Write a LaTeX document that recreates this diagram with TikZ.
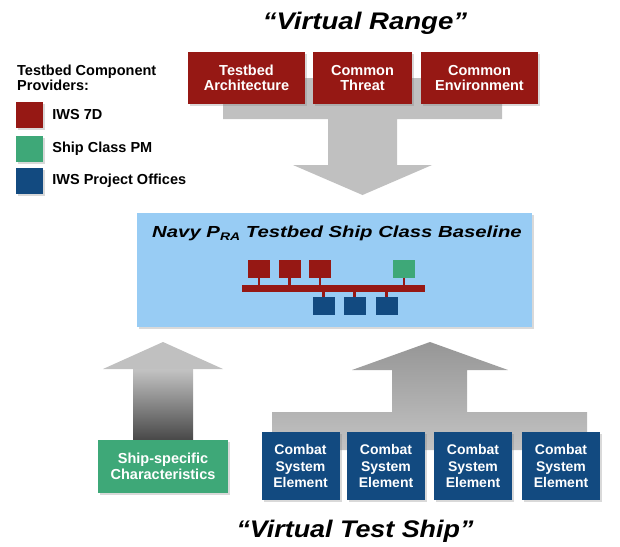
\documentclass[tikz,border=0pt]{standalone}
\usepackage{fontspec}
\setmainfont{Liberation Sans}
\usetikzlibrary{positioning,shadows}

\definecolor{iwsred}{RGB}{150,24,20}
\definecolor{shipgreen}{RGB}{62,168,120}
\definecolor{iwsblue}{RGB}{18,74,128}
\definecolor{panelblue}{RGB}{152,204,244}
\definecolor{arrowgray}{RGB}{192,192,192}
\definecolor{darkgray}{RGB}{150,150,150}
\definecolor{deepgray}{RGB}{72,72,72}

\newcommand\wide[2][1.15]{\scalebox{#1}[1]{#2}}

\begin{document}
\begin{tikzpicture}
[x=1pt,y=-1pt
,shadowed/.style={drop shadow={shadow xshift=2pt,shadow yshift=-2pt,opacity=.3}}
,box/.style={shadowed,draw=none,text=white,inner sep=0pt,align=center
  ,font=\fontsize{14.5}{15.5}\selectfont\bfseries}
,redbox/.style={box,fill=iwsred,minimum height=52}
,bluebox/.style={box,fill=iwsblue,minimum width=78,minimum height=68
  ,font=\fontsize{14}{16.5}\selectfont\bfseries}
,greenbox/.style={box,fill=shipgreen,minimum width=130,minimum height=53}
,key/.style={shadowed,minimum width=27,minimum height=26,inner sep=0pt}
,keytext/.style={font=\fontsize{14.5}{16}\selectfont\bfseries,inner sep=0pt}
,unit/.style={minimum width=22,minimum height=18,inner sep=0pt}
,stub/.style={draw=iwsred,line width=2.5pt}
,title/.style={font=\fontsize{24}{28}\selectfont\bfseries\itshape}
]
\useasboundingbox (0,0) rectangle (620,546);

% virtual range
\node[title] (vr) at (365,23) {\wide{“Virtual Range”}};
\fill[arrowgray] (223,78) -- (502,78) -- (502,119) -- (397,119) -- (397,165)
  -- (432,165) -- (362.5,195) -- (293,165) -- (328,165) -- (328,119)
  -- (223,119) -- cycle;
\node[redbox,minimum width=117] (tarch) at (246.5,78) {Testbed\\Architecture};
\node[redbox,minimum width=99] (cthr) at (362.5,78) {Common\\Threat};
\node[redbox,minimum width=117] (cenv) at (479.5,78) {Common\\Environment};

% legend
\node[keytext,align=left,anchor=north west,font=\fontsize{14.5}{15}\selectfont\bfseries]
  (lhead) at (17,65) {Testbed Component\\Providers:};
\node[key,fill=iwsred] (kred) at (29.5,115) {};
\node[key,fill=shipgreen] (kgreen) at (29.5,149) {};
\node[key,fill=iwsblue] (kblue) at (29.5,181) {};
\node[keytext,right=9pt of kred] (lred) {IWS 7D};
\node[keytext,right=9pt of kgreen] (lgreen) {Ship Class PM};
\node[keytext,right=9pt of kblue] (lblue) {IWS Project Offices};

% baseline panel
\node[shadowed,fill=panelblue,minimum width=395,minimum height=114,inner sep=0pt]
  (base) at (334.5,270) {};
\node[font=\fontsize{16}{18}\selectfont\bfseries\itshape] (btitle) at (337,233)
  {\wide[1.27]{Navy P\raisebox{-3.5pt}{\fontsize{11}{11}\selectfont RA} Testbed Ship Class Baseline}};
\node[fill=iwsred,minimum width=183,minimum height=7,inner sep=0pt] (bus) at (333.5,288.5) {};
\node[unit,fill=iwsred] (r1) at (259,269) {};
\node[unit,fill=iwsred] (r2) at (289.5,269) {};
\node[unit,fill=iwsred] (r3) at (320,269) {};
\node[unit,fill=shipgreen] (g1) at (404,269) {};
\node[unit,fill=iwsblue] (b1) at (323.5,306) {};
\node[unit,fill=iwsblue] (b2) at (354.5,306) {};
\node[unit,fill=iwsblue] (b3) at (386.5,306) {};
\foreach \u in {r1,r2,r3,g1}
  \draw[stub] (\u.south) -- (\u.south |- bus.north);
\foreach \u in {b1,b2,b3}
  \draw[stub] (bus.south -| \u.north) -- (\u.north);

% virtual test ship
\shade[top color=arrowgray!95!white,bottom color=deepgray] (133,369) rectangle (193,440);
\fill[arrowgray] (103,369) -- (163,342) -- (223,369) -- cycle;
\shade[top color=darkgray,bottom color=arrowgray!95!white] (272,412) -- (392,412)
  -- (392,370) -- (352,370) -- (430,342) -- (508,370) -- (467,370) -- (467,412)
  -- (587,412) -- (587,450) -- (272,450) -- cycle;
\node[greenbox] (ship) at (163,466.5) {Ship-specific\\Characteristics};
\node[bluebox] (cse1) at (300.5,466) {Combat\\System\\Element};
\node[bluebox] (cse2) at (386,466) {Combat\\System\\Element};
\node[bluebox] (cse3) at (473,466) {Combat\\System\\Element};
\node[bluebox] (cse4) at (561,466) {Combat\\System\\Element};
\node[title] (vts) at (355,531) {\wide[1.12]{“Virtual Test Ship”}};
\end{tikzpicture}
\end{document}
